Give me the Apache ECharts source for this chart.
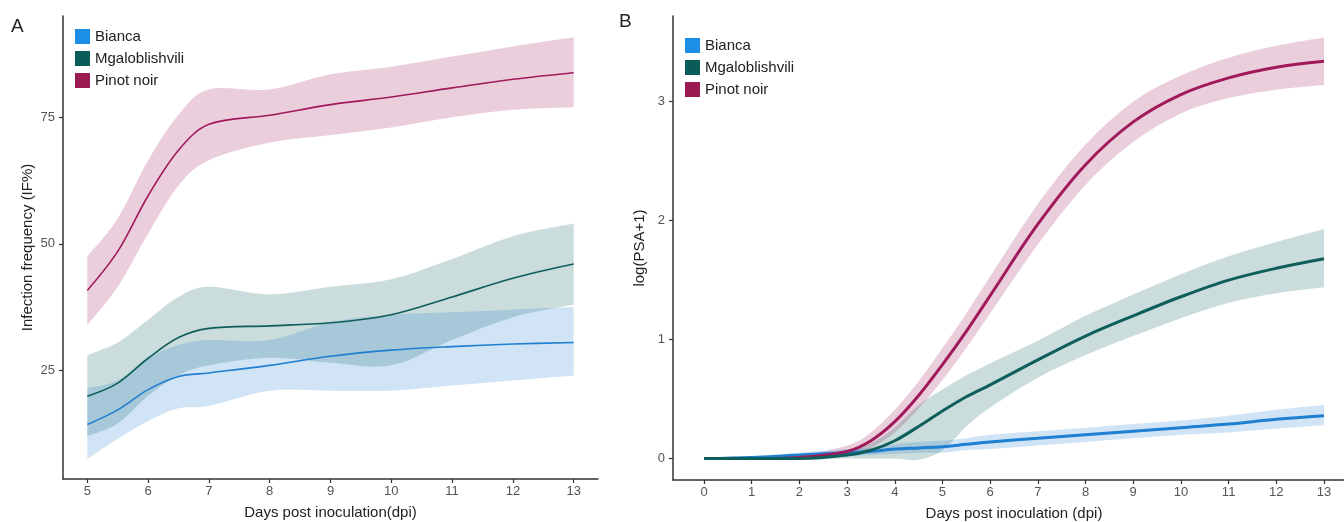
<!DOCTYPE html>
<html>
<head>
<meta charset="utf-8">
<script src="https://cdn.jsdelivr.net/npm/echarts@6/dist/echarts.min.js"></script>
<style>
  html, body { margin: 0; padding: 0; background: #fff; }
  #main { width: 1344px; height: 522px; }
</style>
</head>
<body>
<div id="main"></div>
<script>
// panel A: infection frequency
var daysA = [5, 5.5, 6, 6.5, 7, 8, 9, 10, 11, 12, 13];
var biancaA = [14.3, 17.2, 21.2, 23.8, 24.5, 26, 27.8, 29, 29.7, 30.2, 30.5];
var biancaALo = [7.5, 11.5, 15, 17.5, 18, 21, 21, 21, 22, 23, 24];
var biancaAHi = [21.5, 23, 27.5, 30, 31, 31, 34.5, 36, 36.5, 37, 37.5];
var mgaloA = [19.9, 22.5, 27.4, 31.5, 33.3, 33.8, 34.4, 36, 39.5, 43.2, 46];
var mgaloALo = [12, 14.5, 20, 24, 26, 27.5, 26.5, 26, 31, 35.5, 38];
var mgaloAHi = [28, 30.5, 35, 39.5, 41.5, 40, 41.5, 43, 47, 51.5, 54];
var pinotA = [40.8, 48.5, 59.5, 68.5, 73.6, 75.4, 77.5, 79, 80.8, 82.5, 83.8];
var pinotALo = [33.9, 41.5, 52, 61.5, 66.5, 70, 71.5, 73, 75, 76.5, 77];
var pinotAHi = [47.5, 55, 66.5, 75.5, 80.5, 80.5, 83.5, 85, 87, 89, 90.8];

// panel B: log(PSA+1)
var daysB = [0, 1, 2, 3, 3.5, 4, 4.5, 5, 5.5, 6, 7, 8, 9, 10, 11, 12, 13];
var biancaB = [0, 0.01, 0.03, 0.05, 0.06, 0.08, 0.09, 0.1, 0.12, 0.14, 0.17, 0.2, 0.23, 0.26, 0.29, 0.33, 0.36];
var biancaBLo = [0, 0, 0.01, 0.02, 0.03, 0.04, 0.05, 0.05, 0.07, 0.08, 0.11, 0.14, 0.17, 0.2, 0.22, 0.25, 0.28];
var biancaBHi = [0, 0.02, 0.05, 0.08, 0.09, 0.12, 0.14, 0.15, 0.17, 0.2, 0.23, 0.26, 0.29, 0.32, 0.36, 0.41, 0.45];
var mgaloB = [0, 0, 0, 0.03, 0.07, 0.15, 0.27, 0.4, 0.52, 0.62, 0.83, 1.03, 1.2, 1.36, 1.5, 1.6, 1.68];
var mgaloBLo = [0, 0, -0.01, 0, 0.0, 0.0, -0.01, 0.07, 0.27, 0.43, 0.68, 0.87, 1.03, 1.18, 1.31, 1.39, 1.44];
var mgaloBHi = [0, 0, 0.01, 0.06, 0.13, 0.26, 0.45, 0.58, 0.7, 0.8, 0.99, 1.2, 1.38, 1.55, 1.7, 1.82, 1.93];
var pinotB = [0, 0, 0.01, 0.06, 0.15, 0.31, 0.53, 0.79, 1.07, 1.37, 1.97, 2.47, 2.83, 3.06, 3.2, 3.29, 3.34];
var pinotBLo = [0, 0, 0, 0.02, 0.09, 0.22, 0.42, 0.66, 0.93, 1.22, 1.8, 2.3, 2.66, 2.9, 3.03, 3.1, 3.14];
var pinotBHi = [0, 0.01, 0.03, 0.11, 0.22, 0.41, 0.65, 0.93, 1.22, 1.53, 2.14, 2.64, 3.0, 3.22, 3.37, 3.47, 3.54];

var ticksA = [5, 6, 7, 8, 9, 10, 11, 12, 13];
var ticksAY = [25, 50, 75];
var ticksB = [0, 1, 2, 3, 4, 5, 6, 7, 8, 9, 10, 11, 12, 13];
var ticksBY = [0, 1, 2, 3];

var names = ["Bianca", "Mgaloblishvili", "Pinot noir"];
var keyColors = ["#1b8fe6", "#0a5c59", "#9c1a52"];
var lineColors = ["#1f7fd0", "#0e5e5b", "#a0195a"];
var bandColors = ["rgba(31,127,208,0.21)", "rgba(14,94,91,0.22)", "rgba(160,25,90,0.21)"];

function pairs(xs, ys) {
  return xs.map(function (x, i) { return [x, ys[i]]; });
}

// smooth curve through screen points (catmull-rom -> cubic bezier)
function curve(pts) {
  var s = "";
  var n = pts.length;
  for (var i = 0; i < n - 1; i++) {
    var p0 = pts[Math.max(i - 1, 0)], p1 = pts[i], p2 = pts[i + 1], p3 = pts[Math.min(i + 2, n - 1)];
    var k = 1 / 6;
    s += " C" + (p1[0] + (p2[0] - p0[0]) * k) + "," + (p1[1] + (p2[1] - p0[1]) * k) +
      " " + (p2[0] - (p3[0] - p1[0]) * k) + "," + (p2[1] - (p3[1] - p1[1]) * k) +
      " " + p2[0] + "," + p2[1];
  }
  return s;
}

function band(xs, lo, hi, color, idx) {
  return {
    type: "custom", xAxisIndex: idx, yAxisIndex: idx, silent: true, z: 1,
    data: xs.map(function (x, i) { return [x, lo[i], hi[i]]; }),
    encode: { x: 0, y: [1, 2] },
    renderItem: function (params, api) {
      if (params.dataIndex !== 0) return null;
      var up = xs.map(function (x, i) { return api.coord([x, hi[i]]); });
      var dn = xs.map(function (x, i) { return api.coord([x, lo[i]]); }).reverse();
      var d = "M" + up[0][0] + "," + up[0][1] + curve(up) +
        " L" + dn[0][0] + "," + dn[0][1] + curve(dn) + " Z";
      return { type: "path", shape: { pathData: d }, style: { fill: color, stroke: null } };
    }
  };
}

function line(k, xs, ys, idx, width) {
  return {
    type: "line", name: names[k], smooth: 0.35,
    xAxisIndex: idx, yAxisIndex: idx, symbol: "none",
    itemStyle: { color: keyColors[k] },
    lineStyle: { color: lineColors[k], width: width },
    data: pairs(xs, ys), z: 3
  };
}

var series = [
  band(daysA, pinotALo, pinotAHi, bandColors[2], 0),
  band(daysA, mgaloALo, mgaloAHi, bandColors[1], 0),
  band(daysA, biancaALo, biancaAHi, bandColors[0], 0),
  line(0, daysA, biancaA, 0, 1.6), line(1, daysA, mgaloA, 0, 1.6), line(2, daysA, pinotA, 0, 1.6),
  band(daysB, pinotBLo, pinotBHi, bandColors[2], 1),
  band(daysB, mgaloBLo, mgaloBHi, bandColors[1], 1),
  band(daysB, biancaBLo, biancaBHi, bandColors[0], 1),
  line(0, daysB, biancaB, 1, 3), line(2, daysB, pinotB, 1, 3), line(1, daysB, mgaloB, 1, 3)
];

var axisLine = { show: true, onZero: false, lineStyle: { color: "#333", width: 1.5 } };
var tickLabel = { color: "#555", fontSize: 13, fontFamily: "Liberation Sans" };
var nameText = { color: "#222", fontSize: 15, fontFamily: "Liberation Sans" };

function xAx(idx, min, max, ticks, title) {
  return {
    type: "value", gridIndex: idx, min: min, max: max,
    name: title, nameLocation: "middle", nameGap: 26, nameTextStyle: nameText,
    axisLine: axisLine,
    axisTick: { show: true, length: 4, lineStyle: { color: "#333", width: 1.2 }, customValues: ticks },
    axisLabel: Object.assign({ margin: 6, customValues: ticks }, tickLabel),
    splitLine: { show: false }
  };
}

function yAx(idx, min, max, ticks, title, gap) {
  return {
    type: "value", gridIndex: idx, min: min, max: max,
    name: title, nameLocation: "middle", nameGap: gap, nameTextStyle: nameText,
    axisLine: axisLine,
    axisTick: { show: true, length: 4, lineStyle: { color: "#333", width: 1.2 }, customValues: ticks },
    axisLabel: Object.assign({ margin: 8, customValues: ticks }, tickLabel),
    splitLine: { show: false }
  };
}

function legend(left, top) {
  return {
    data: names, orient: "vertical", left: left, top: top, padding: 0,
    icon: "rect", itemWidth: 15, itemHeight: 15, itemGap: 7,
    textStyle: { color: "#222", fontSize: 15, fontFamily: "Liberation Sans" },
    selectedMode: false
  };
}

var chart = echarts.init(document.getElementById("main"));
chart.setOption({
  animation: false,
  backgroundColor: "#fff",
  grid: [
    { left: 63, top: 16, width: 535, height: 463, outerBoundsMode: "none", containLabel: false },
    { left: 673, top: 16, width: 682, height: 464, outerBoundsMode: "none", containLabel: false }
  ],
  xAxis: [
    xAx(0, 4.6, 13.4, ticksA, "Days post inoculation(dpi)"),
    xAx(1, -0.65, 13.65, ticksB, "Days post inoculation (dpi)")
  ],
  yAxis: [
    yAx(0, 3.55, 95, ticksAY, "Infection frequency (IF%)", 28),
    yAx(1, -0.18, 3.72, ticksBY, "log(PSA+1)", 25)
  ],
  legend: [legend(75, 29), legend(685, 38)],
  graphic: [
    { type: "text", left: 11, top: 17, style: { text: "A", fontSize: 19, fill: "#222", fontFamily: "Liberation Sans" } },
    { type: "text", left: 619, top: 12, style: { text: "B", fontSize: 19, fill: "#222", fontFamily: "Liberation Sans" } }
  ],
  series: series
});
</script>
</body>
</html>
